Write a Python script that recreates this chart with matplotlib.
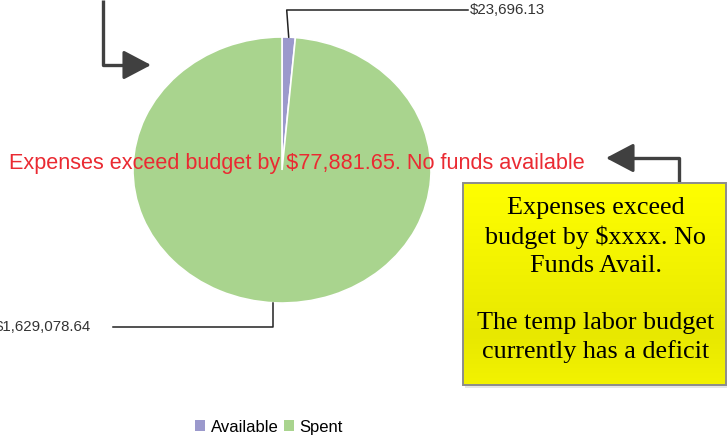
import numpy as np
import matplotlib
matplotlib.use("Agg")
import matplotlib.pyplot as plt
from matplotlib.patches import Rectangle

plt.rcParams['font.family'] = ['Liberation Sans', 'DejaVu Sans']

categories = ["Available", "Spent"]
values = [23696.13, 1629078.64]
value_labels = ["$23,696.13", "$1,629,078.64"]
colors = ["#9b99cc", "#a9d48e"]
headline = "Expenses exceed budget by $77,881.65. No funds available"
box_text = "Expenses exceed\nbudget by $xxxx. No\nFunds Avail.\n\nThe temp labor budget\ncurrently has a deficit"

W, H = 727, 440
fig = plt.figure(figsize=(W / 100, H / 100), dpi=100)

# pie axes (elliptical pie)
px0, py0, px1, py1 = 133, 37, 431, 303
ax = fig.add_axes([px0 / W, 1 - py1 / H, (px1 - px0) / W, (py1 - py0) / H])
wedges, _ = ax.pie(values, colors=colors, startangle=90, counterclock=False,
                   wedgeprops=dict(edgecolor="white", linewidth=1.2))
ax.set_aspect('auto')
ax.set_xlim(-1, 1)
ax.set_ylim(-1, 1)
ax.axis('off')

# overlay axes in pixel coordinates
ov = fig.add_axes([0, 0, 1, 1], zorder=5)
ov.set_xlim(0, W)
ov.set_ylim(H, 0)
ov.axis('off')
ov.patch.set_alpha(0)

def pie_point(angle_deg):
    a = np.deg2rad(angle_deg)
    disp = ax.transData.transform((np.cos(a), np.sin(a)))
    return disp[0], H - disp[1]

# leader lines for data labels
total = sum(values)
angles = []
start = 90.0
for v in values:
    sweep = 360.0 * v / total
    angles.append(start - sweep / 2)
    start -= sweep

lc = "#222222"
x0, y0 = pie_point(angles[0])
ov.plot([x0, x0 - 2, x0 - 2, 468], [y0, 10, 10, 10], color=lc, lw=1.1)
ov.text(470, 10, value_labels[0], ha='left', va='center', fontsize=10.8, color="#333333")

x1, y1 = pie_point(angles[1])
ov.plot([x1 - 2, x1 - 2, 113], [y1, 327, 327], color=lc, lw=1.1)
ov.text(91, 327, value_labels[1], ha='right', va='center', fontsize=10.8, color="#333333")

# headline
ov.text(297, 164, headline, ha='center', va='center', fontsize=15.6, color="#ea2a32")

# arrows
ac = "#404040"
ov.plot([103, 103, 136], [0, 65, 65], color=ac, lw=2.4, solid_capstyle='butt')
ov.annotate("", xy=(151, 65), xytext=(130, 65),
            arrowprops=dict(arrowstyle="-|>,head_length=0.95,head_width=0.5",
                            color=ac, lw=2.2, mutation_scale=18, shrinkA=0, shrinkB=0))
ov.plot([679, 679, 620], [183, 158, 158], color=ac, lw=2.4, solid_capstyle='butt')
ov.annotate("", xy=(606, 158), xytext=(627, 158),
            arrowprops=dict(arrowstyle="-|>,head_length=0.95,head_width=0.5",
                            color=ac, lw=2.2, mutation_scale=18, shrinkA=0, shrinkB=0))

# yellow box with gradient
bx0, by0, bx1, by1 = 463, 183, 726, 385
ov.add_patch(Rectangle((bx0 + 2, by0 + 3), bx1 - bx0, by1 - by0, facecolor="#e6e6e6",
                       edgecolor="none", zorder=1))
grad = np.linspace(0, 1, 200)[:, None]
top = np.array([1.0, 1.0, 0.0])
mid = np.array([0.91, 0.91, 0.0])
bot = np.array([0.95, 0.95, 0.0])
cols = np.where(grad < 0.75,
                top + (mid - top) * (grad / 0.75),
                mid + (bot - mid) * ((grad - 0.75) / 0.25))
img = np.repeat(cols[:, None, :], 2, axis=1)
ov.imshow(img, extent=[bx0, bx1, by1, by0], aspect='auto', zorder=2, interpolation='bilinear')
ov.add_patch(Rectangle((bx0, by0), bx1 - bx0, by1 - by0, facecolor="none",
                       edgecolor="#8c8c8c", lw=1.4, zorder=3))
ov.set_xlim(0, W)
ov.set_ylim(H, 0)
ov.text((bx0 + bx1) / 2 + 1, 280, box_text, ha='center', va='center',
        fontsize=18.8, family=['Liberation Serif', 'DejaVu Serif'], color="black",
        linespacing=1.36, zorder=4)

# legend
leg = fig.legend(wedges, categories, loc='center', bbox_to_anchor=(269 / W, 1 - 427 / H),
                 ncol=2, frameon=False, fontsize=12, handlelength=0.6, handleheight=0.6,
                 handletextpad=0.35, columnspacing=0.3, borderpad=0)
for h in leg.legend_handles:
    h.set_edgecolor("none")

fig.savefig("out.png", dpi=100)
